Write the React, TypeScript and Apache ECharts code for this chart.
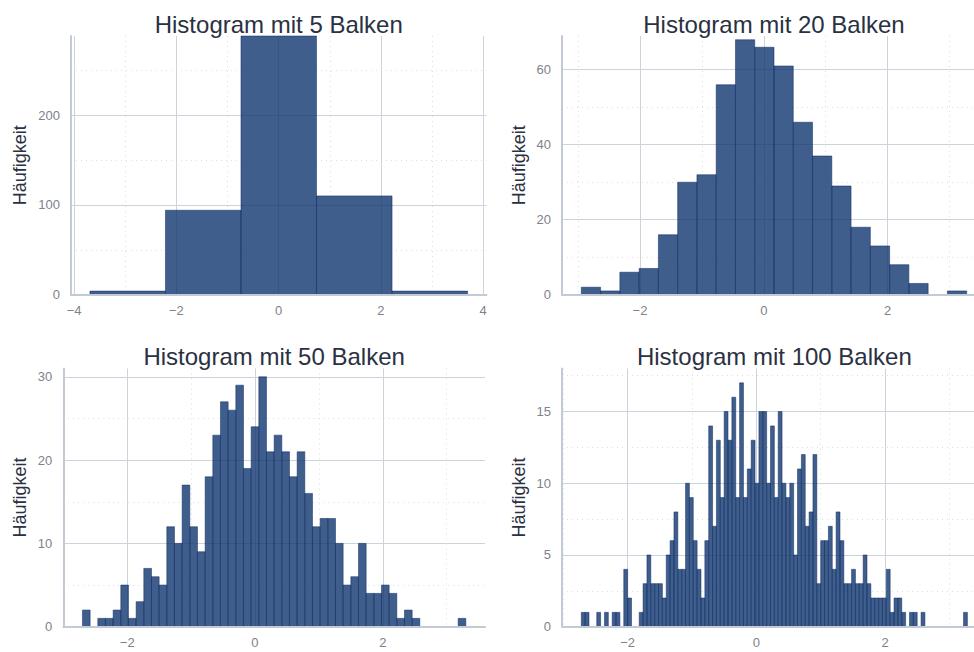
import React, { useEffect, useRef } from "react";
import * as echarts from "echarts";

// ---------- data ----------
const TITLES = [
  "Histogram mit 5 Balken",
  "Histogram mit 20 Balken",
  "Histogram mit 50 Balken",
  "Histogram mit 100 Balken",
];
const Y_TITLE = "Häufigkeit";

const COUNTS_5 = [4, 94, 288, 110, 4];
const BIN_START_5 = -3.69;
const BIN_WIDTH_5 = 1.477;

const COUNTS_20 = [2, 1, 6, 7, 16, 30, 32, 56, 68, 66, 61, 46, 37, 29, 18, 13, 8, 3, 0, 1];
const BIN_START_20 = -2.948;
const BIN_WIDTH_20 = 0.3113;

const COUNTS_50 = [
  2, 0, 1, 1, 2, 5, 1, 3, 7, 6,
  5, 12, 10, 17, 12, 9, 18, 23, 27, 26,
  29, 19, 24, 30, 21, 23, 21, 18, 21, 16,
  12, 13, 13, 10, 5, 6, 10, 4, 4, 5,
  4, 1, 2, 1, 0, 0, 0, 0, 0, 1,
];
const BIN_START_50 = -2.7;
const BIN_WIDTH_50 = 0.12;

const COUNTS_100 = [
  1, 1, 0, 0, 1, 0, 1, 0, 1, 1,
  0, 4, 2, 0, 0, 1, 3, 5, 3, 3,
  3, 2, 5, 6, 8, 4, 4, 10, 9, 6,
  4, 2, 6, 14, 7, 13, 9, 15, 13, 16,
  9, 17, 9, 11, 13, 10, 15, 15, 10, 14,
  9, 15, 10, 9, 10, 5, 11, 12, 7, 8,
  12, 3, 6, 6, 7, 4, 8, 6, 3, 3,
  4, 3, 3, 5, 3, 2, 2, 2, 2, 4,
  1, 2, 2, 1, 0, 1, 1, 0, 1, 0,
  0, 0, 0, 0, 0, 0, 0, 0, 0, 1,
];
const BIN_START_100 = -2.72;
const BIN_WIDTH_100 = 0.06;

// axis ranges and tick values
const X_RANGE_5 = [-4.06, 4.065];
const X_RANGE_20 = [-3.26, 3.59];
const X_RANGE_50 = [-3.0, 3.6];
const X_RANGE_100 = [-3.02, 3.58];

const X_MAJOR_5 = [-4, -2, 0, 2, 4];
const X_MINOR_5 = [-3, -1, 1, 3];
const X_MAJOR = [-2, 0, 2];
const X_MINOR = [-3, -1, 1, 3];

const Y_MAX = [288, 69, 31, 18];
const Y_MAJOR_5 = [0, 100, 200];
const Y_MINOR_5 = [50, 150, 250];
const Y_MAJOR_20 = [0, 20, 40, 60];
const Y_MINOR_20 = [10, 30, 50];
const Y_MAJOR_50 = [0, 10, 20, 30];
const Y_MINOR_50 = [5, 15, 25];
const Y_MAJOR_100 = [0, 5, 10, 15];
const Y_MINOR_100 = [2.5, 7.5, 12.5, 17.5];

// ---------- styling ----------
const W = 974;
const H = 652;
const FONT = "'Liberation Sans', Arial, Helvetica, sans-serif";
const TITLE_COLOR = "#2a3142";
const TICK_COLOR = "#7d828c";
const GRID_COLOR = "#cdd3dd";
const DOT_COLOR = "#d9dde4";
const AXIS_COLOR = "#c3cad6";
const BAR_FILL = "rgba(16,54,110,0.8)";
const BAR_STROKE = "#0d2a63";

const LAYOUT = [
  { left: 71, top: 36, width: 415.5, height: 258.7, yTitleX: 20 },
  { left: 562, top: 36, width: 424, height: 258.7, yTitleX: 519 },
  { left: 63.3, top: 368.5, width: 421.7, height: 258.2, yTitleX: 20 },
  { left: 562, top: 368.5, width: 424.7, height: 258.2, yTitleX: 519 },
];

const fmt = (v: number) => (v < 0 ? "\u2212" + Math.abs(v) : String(v));

export default function App() {
  const ref = useRef<HTMLDivElement>(null);

  useEffect(() => {
    if (!ref.current) return;
    const chart = echarts.init(ref.current, null, { renderer: "svg", width: W, height: H });

    const panels = [
      { counts: COUNTS_5, start: BIN_START_5, w: BIN_WIDTH_5, xr: X_RANGE_5, xMaj: X_MAJOR_5, xMin: X_MINOR_5, yMaj: Y_MAJOR_5, yMin: Y_MINOR_5 },
      { counts: COUNTS_20, start: BIN_START_20, w: BIN_WIDTH_20, xr: X_RANGE_20, xMaj: X_MAJOR, xMin: X_MINOR, yMaj: Y_MAJOR_20, yMin: Y_MINOR_20 },
      { counts: COUNTS_50, start: BIN_START_50, w: BIN_WIDTH_50, xr: X_RANGE_50, xMaj: X_MAJOR, xMin: X_MINOR, yMaj: Y_MAJOR_50, yMin: Y_MINOR_50 },
      { counts: COUNTS_100, start: BIN_START_100, w: BIN_WIDTH_100, xr: X_RANGE_100, xMaj: X_MAJOR, xMin: X_MINOR, yMaj: Y_MAJOR_100, yMin: Y_MINOR_100 },
    ];

    const grid: any[] = [];
    const xAxis: any[] = [];
    const yAxis: any[] = [];
    const series: any[] = [];
    const graphic: any[] = [];

    panels.forEach((p, i) => {
      const L = LAYOUT[i];
      grid.push({
        left: L.left,
        top: L.top,
        width: L.width,
        height: L.height,
        containLabel: false,
        outerBoundsMode: "none",
      });
      const xBase = { gridIndex: i, type: "value", position: "bottom", min: p.xr[0], max: p.xr[1] };
      const yBase = { gridIndex: i, type: "value", position: "left", min: 0, max: Y_MAX[i] };
      // major grid + labels
      xAxis.push({
        ...xBase,
        axisLine: { show: false, onZero: false },
        axisTick: { show: false, customValues: p.xMaj },
        axisLabel: { show: true, customValues: p.xMaj, formatter: fmt, color: TICK_COLOR, fontSize: 13, fontFamily: FONT, margin: 9 },
        splitLine: { show: true, lineStyle: { color: GRID_COLOR, width: 1 } },
      });
      // minor dotted grid
      xAxis.push({
        ...xBase,
        axisLine: { show: false, onZero: false },
        axisTick: { show: false, customValues: p.xMin },
        axisLabel: { show: false },
        splitLine: { show: true, lineStyle: { color: DOT_COLOR, width: 1, type: [1, 4] } },
      });
      // axis line on top
      xAxis.push({
        ...xBase,
        z: 5,
        axisLine: { show: true, onZero: false, lineStyle: { color: AXIS_COLOR, width: 2 } },
        axisTick: { show: false },
        axisLabel: { show: false },
        splitLine: { show: false },
      });
      yAxis.push({
        ...yBase,
        axisLine: { show: false, onZero: false },
        axisTick: { show: false, customValues: p.yMaj },
        axisLabel: { show: true, customValues: p.yMaj, color: TICK_COLOR, fontSize: 13, fontFamily: FONT, margin: 11 },
        splitLine: { show: true, lineStyle: { color: GRID_COLOR, width: 1 } },
      });
      yAxis.push({
        ...yBase,
        axisLine: { show: false, onZero: false },
        axisTick: { show: false, customValues: p.yMin },
        axisLabel: { show: false },
        splitLine: { show: true, lineStyle: { color: DOT_COLOR, width: 1, type: [1, 4] } },
      });
      yAxis.push({
        ...yBase,
        z: 5,
        axisLine: { show: true, onZero: false, lineStyle: { color: AXIS_COLOR, width: 2 } },
        axisTick: { show: false },
        axisLabel: { show: false },
        splitLine: { show: false },
      });

      series.push({
        type: "custom",
        xAxisIndex: i * 3,
        yAxisIndex: i * 3,
        z: 2,
        encode: { x: [0, 1], y: 2 },
        data: p.counts.map((c, k) => [p.start + k * p.w, p.start + (k + 1) * p.w, c]),
        renderItem: (params: any, api: any) => {
          const c = api.value(2);
          if (!c) return { type: "group", children: [] };
          const a = api.coord([api.value(0), c]);
          const b = api.coord([api.value(1), 0]);
          return {
            type: "rect",
            shape: { x: a[0], y: a[1], width: b[0] - a[0], height: b[1] - a[1] },
            style: { fill: BAR_FILL, stroke: BAR_STROKE, lineWidth: 0.5 },
          };
        },
      });

      const cx = L.left + L.width / 2;
      graphic.push({
        type: "text",
        x: cx,
        y: L.top - 12,
        z: 10,
        style: { text: TITLES[i], fontSize: 24, fontFamily: FONT, fill: TITLE_COLOR, align: "center", verticalAlign: "middle" },
      });
      graphic.push({
        type: "text",
        x: L.yTitleX,
        y: L.top + L.height / 2,
        rotation: Math.PI / 2,
        z: 10,
        style: { text: Y_TITLE, fontSize: 18, fontFamily: FONT, fill: TITLE_COLOR, align: "center", verticalAlign: "middle" },
      });
    });

    chart.setOption({
      animation: false,
      backgroundColor: "#ffffff",
      textStyle: { fontFamily: FONT },
      grid,
      xAxis,
      yAxis,
      series,
      graphic,
    });

    return () => chart.dispose();
  }, []);

  return (
    <div
      ref={ref}
      style={{ position: "fixed", left: 0, top: 0, width: W, height: H, background: "#fff", overflow: "hidden" }}
    />
  );
}
